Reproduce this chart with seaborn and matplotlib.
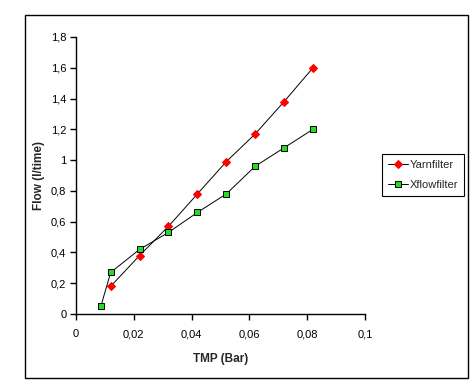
import matplotlib
matplotlib.use('Agg')
import matplotlib.pyplot as plt
import seaborn as sns
from matplotlib.patches import Rectangle
from matplotlib.ticker import FuncFormatter

# ----- Data ----- #
yarn_tmp = [0.012, 0.022, 0.032, 0.042, 0.052, 0.062, 0.072, 0.082]
yarn_flow = [0.18, 0.38, 0.57, 0.78, 0.99, 1.17, 1.38, 1.60]
xflow_tmp = [0.0086, 0.012, 0.022, 0.032, 0.042, 0.052, 0.062, 0.072, 0.082]
xflow_flow = [0.05, 0.27, 0.42, 0.53, 0.66, 0.78, 0.96, 1.08, 1.20]

sns.set_style('ticks')
plt.rcParams['font.family'] = ['Liberation Sans', 'DejaVu Sans']
plt.rcParams['font.size'] = 8

fig = plt.figure(figsize=(4.76, 3.85), dpi=100)
ax = fig.add_axes([76 / 476, 1 - 314 / 385, 289 / 476, 277 / 385])

# ----- Lines ----- #
sns.lineplot(x=yarn_tmp, y=yarn_flow, ax=ax, color='black', lw=0.7,
             marker='D', markersize=4.5, markerfacecolor='red',
             markeredgecolor='red', label='Yarnfilter')
sns.lineplot(x=xflow_tmp, y=xflow_flow, ax=ax, color='black', lw=0.7,
             marker='s', markersize=5, markerfacecolor='#22dd22',
             markeredgecolor='black', markeredgewidth=0.7, label='Xflowfilter')

# ----- Axes ----- #
ax.set_xlim(0, 0.1)
ax.set_ylim(0, 1.8)
ax.set_xticks([0, 0.02, 0.04, 0.06, 0.08, 0.1])
ax.set_yticks([0, 0.2, 0.4, 0.6, 0.8, 1.0, 1.2, 1.4, 1.6, 1.8])
comma = FuncFormatter(lambda v, p: ('%g' % round(v, 3)).replace('.', ','))
ax.xaxis.set_major_formatter(comma)
ax.yaxis.set_major_formatter(comma)
ax.tick_params(direction='out', length=4, width=1, colors='black', pad=3)
ax.tick_params(axis='x', pad=7)
sns.despine(ax=ax)
for s in ['left', 'bottom']:
    ax.spines[s].set_linewidth(1)
    ax.spines[s].set_color('black')
ax.set_xlabel('TMP (Bar)', fontweight='bold', fontsize=8.5, labelpad=10)
ax.set_ylabel('Flow (l/time)', fontweight='bold', fontsize=8.5, labelpad=4)

# ----- Legend ----- #
ax.legend(loc='center left', bbox_to_anchor=(382 / 476, 1 - 175 / 385),
          bbox_transform=fig.transFigure, frameon=True, fancybox=False,
          edgecolor='black', framealpha=1, borderpad=0.5, borderaxespad=0,
          handlelength=1.8, handletextpad=0.2, labelspacing=0.9, fontsize=8)
ax.get_legend().get_frame().set_linewidth(0.8)

# ----- Outer chart border ----- #
fig.patches.append(Rectangle((25 / 476, 1 - 378 / 385), 443 / 476, 363 / 385,
                             transform=fig.transFigure, fill=False,
                             edgecolor='black', lw=1))

fig.savefig('out.png', dpi=100)
